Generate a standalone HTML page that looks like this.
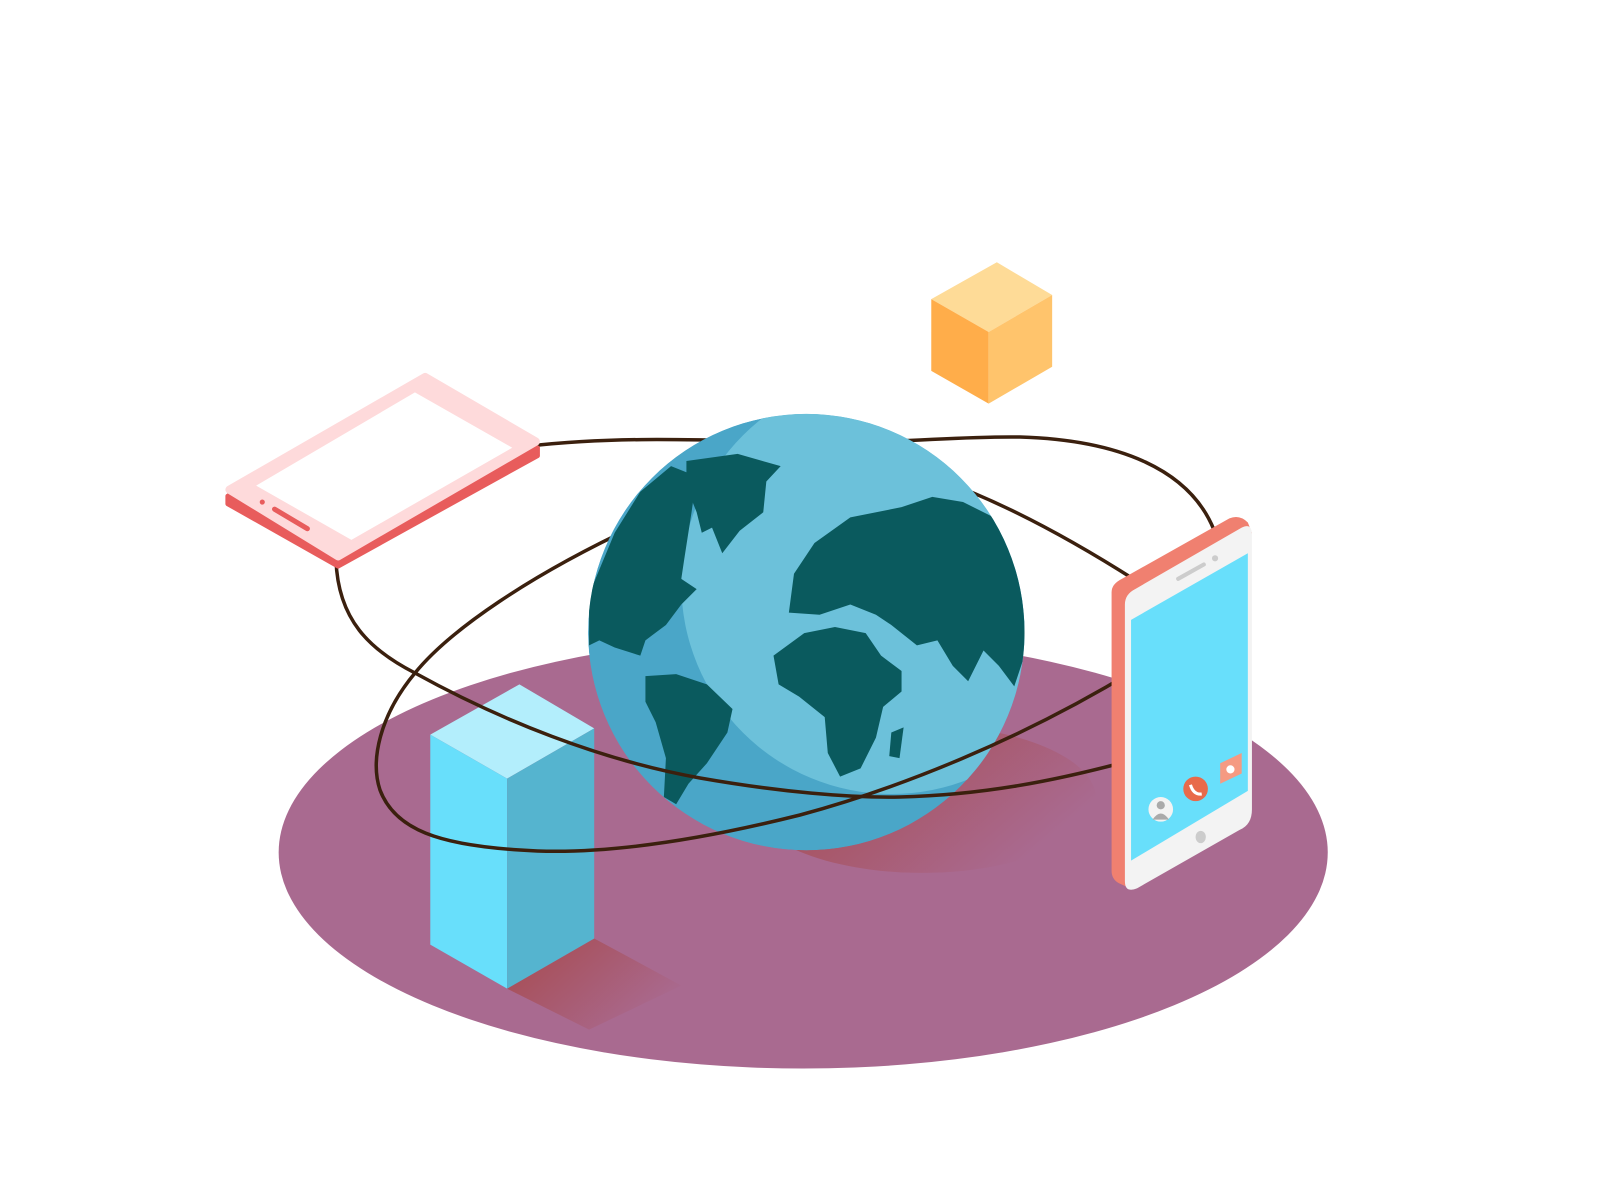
<!DOCTYPE html>
<html><head><meta charset="utf-8"><style>html,body{margin:0;padding:0;background:#fff}svg{display:block}</style></head>
<body>
<svg width="1600" height="1200" viewBox="0 0 1600 1200" xmlns="http://www.w3.org/2000/svg">
<defs>
<linearGradient id="sh1" x1="0" y1="0" x2="1" y2="0.5"><stop offset="0.3" stop-color="#a8505a"/><stop offset="1" stop-color="#a96a90"/></linearGradient>
<linearGradient id="sh2" x1="0" y1="0" x2="1" y2="0.6"><stop offset="0.2" stop-color="#a8505a"/><stop offset="1" stop-color="#a96a90"/></linearGradient>
<clipPath id="gc"><circle cx="787" cy="617" r="213"/></clipPath>
</defs>
<g transform="scale(1.0245)">
<ellipse cx="784" cy="832" rx="512" ry="211" fill="#a96a90"/>
<ellipse cx="900" cy="780" rx="170" ry="72" fill="url(#sh1)"/>
<polygon points="495,965 580,916 665,962 575,1005" fill="url(#sh2)"/>
</g>
<!-- back orbit segments -->
<g fill="none" stroke="#3b200e" stroke-width="3.5">
<path d="M530,446 C620,436 700,440 800,442 C900,444 950,436 1020,437 C1120,440 1190,470 1214,530"/>
<path d="M1135,580 C1080,545 1010,505 940,480"/>
<path d="M640,524 C530,575 450,630 415,673"/>
</g>
<g transform="scale(1.0245)">
<!-- globe -->
<g clip-path="url(#gc)">
<circle cx="787" cy="617" r="213" fill="#4aa6c8"/>
<circle cx="870" cy="570" r="205" fill="#6cc1da"/>
<g fill="#0a5a5e">
<path d="M670,450 L720,443 L762,455 L748,470 L745,500 L722,518 L705,540 L695,515 L685,520 L680,500 L670,475 Z"/>
<path d="M600,520 L625,480 L655,455 L680,465 L675,500 L668,545 L665,565 L680,575 L665,590 L650,610 L630,625 L625,640 L600,632 L585,625 L575,630 L575,580 Z"/>
<path d="M630,660 L660,658 L690,668 L715,692 L710,715 L690,745 L672,765 L660,785 L648,778 L650,740 L640,705 L630,685 Z"/>
<path d="M795,530 L830,505 L880,495 L910,485 L940,490 L980,510 L1000,560 L1000,640 L990,670 L975,650 L960,635 L945,665 L930,650 L915,625 L895,630 L870,610 L855,600 L830,590 L800,600 L770,598 L775,560 Z"/>
<path d="M755,640 L785,618 L815,612 L845,618 L860,640 L880,655 L880,675 L862,690 L855,720 L840,750 L820,758 L808,735 L805,700 L780,680 L760,668 Z"/>
<path d="M870,715 L882,710 L878,740 L868,738 Z"/>
</g>
</g>
<!-- bar -->
<polygon points="420,717 507,668 580,711 495,760" fill="#b3eefc"/>
<polygon points="420,717 495,760 495,965 420,922" fill="#68dffb"/>
<polygon points="495,760 580,711 580,916 495,965" fill="#55b4cf"/>
</g>
<!-- front orbit segments -->
<g fill="none" stroke="#3b200e" stroke-width="3.5">
<path d="M336,560 C338,620 370,650 415,673 C500,720 600,760 700,778 C780,792 850,798 900,797 C980,795 1050,782 1125,762"/>
<path d="M415,673 C380,715 370,760 380,790 C395,830 440,845 520,850 C600,856 700,840 800,815 C900,788 1020,740 1135,670"/>
</g>
<g transform="scale(1.0245)">
<!-- cube -->
<polygon points="909,292 973,256 1027,288 965,324" fill="#fedb97"/>
<polygon points="909,292 965,324 965,394 909,362" fill="#ffad4a"/>
<polygon points="965,324 1027,288 1027,358 965,394" fill="#ffc46c"/>
<!-- tablet -->
<polygon points="222,484 415,373 525,437 525,445 330,553 222,492" fill="#e85c5c" stroke="#e85c5c" stroke-width="4" stroke-linejoin="round"/>
<polygon points="224,478 415,368 523,431 330,543" fill="#fedadb" stroke="#fedadb" stroke-width="8" stroke-linejoin="round"/>
<polygon points="250,474 405,383 500,437 343,527" fill="#fff"/>
<line x1="268" y1="497" x2="300" y2="516" stroke="#e85c5c" stroke-width="5" stroke-linecap="round"/>
<circle cx="256" cy="490" r="2.5" fill="#e85c5c"/>
<!-- phone -->
<path d="M1085,578 Q1085,570 1095,565 L1200,506 Q1210,502 1218,510 L1222,520 L1105,868 L1092,862 Q1085,858 1085,850 Z" fill="#f08070"/>
<path d="M1098,590 Q1098,580 1108,575 L1212,515 Q1222,510 1222,522 L1222,790 Q1222,805 1210,810 L1110,867 Q1098,872 1098,860 Z" fill="#f3f3f3"/>
<polygon points="1104,605 1218,540 1218,772 1104,840" fill="#68dffb"/>
<line x1="1150" y1="565" x2="1175" y2="551" stroke="#ccc" stroke-width="4" stroke-linecap="round"/>
<circle cx="1186" cy="545" r="3" fill="#ccc"/>
<ellipse cx="1172" cy="817" rx="5" ry="6" fill="#ccc"/>
<circle cx="1133" cy="790" r="12" fill="#f3f3f3"/>
<circle cx="1133" cy="786" r="4" fill="#aaa"/><path d="M1125,800 Q1133,788 1141,800 Z" fill="#aaa"/>
<circle cx="1167" cy="770" r="12" fill="#e86a4a"/>
<path d="M1162,766 Q1165,776 1173,775" stroke="#fff" stroke-width="3" fill="none"/>
<polygon points="1191,745 1212,735 1212,755 1191,765" fill="#f59a82"/>
<circle cx="1201" cy="751" r="4" fill="#fff"/>
</g>
</svg>
</body></html>
